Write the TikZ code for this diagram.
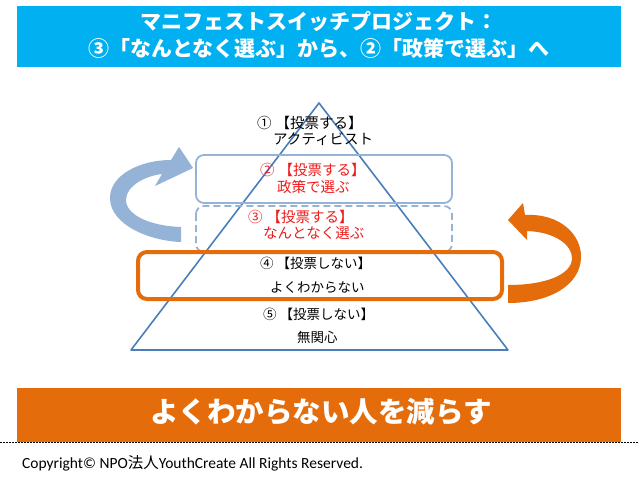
\documentclass[tikz,border=0pt]{standalone}
\usepackage{fontspec}
\setmainfont{Noto Sans CJK JP}
\newfontfamily\calfont{Carlito}
\definecolor{banblue}{HTML}{00B0F0}
\definecolor{banorange}{HTML}{E46C0A}
\definecolor{pyrblue}{HTML}{4A7EBB}
\definecolor{lightblue}{HTML}{95B3D7}
\definecolor{txtred}{HTML}{EE1C1C}
\begin{document}
\begin{tikzpicture}[x=1pt,y=-1pt,
  lvl/.style={font=\fontsize{14.5}{17}\selectfont, inner sep=0pt, anchor=west},
  lvlsmall/.style={font=\fontsize{13.5}{16}\selectfont, inner sep=0pt, anchor=west},
  bantext/.style={text=white, font=\bfseries\fontsize{21}{27}\selectfont, align=center},
  layerbox/.style={lightblue, line width=1.8pt, rounded corners=8pt}]
\useasboundingbox (0,0) rectangle (638,479);
\fill[white] (0,0) rectangle (638,479);
% top banner
\fill[banblue] (17,6) rectangle (621,67);
\node[bantext] (title) at (319,35) {マニフェストスイッチプロジェクト：\\③「なんとなく選ぶ」から、②「政策で選ぶ」へ};
% pyramid
\draw[pyrblue, line width=1.6pt, line join=round] (319,103) -- (508,350) -- (131,350) -- cycle;
% layer boxes
\draw[layerbox] (196,155) rectangle (452,203);
\draw[layerbox, dash pattern=on 7pt off 4pt] (196,206) rectangle (452,252);
\draw[banorange, line width=4pt, rounded corners=9pt] (138,252) rectangle (502,299);
% texts
\node[lvl] (l1a) at (257,123) {①\kern4pt【投票する】};
\node[lvl] (l1b) at (273,139) {アクティビスト};
\node[lvl, text=txtred] (l2a) at (260,170) {②\kern4pt【投票する】};
\node[lvl, text=txtred] (l2b) at (277,187) {政策で選ぶ};
\node[lvl, text=txtred] (l3a) at (248,217) {③\kern4pt【投票する】};
\node[lvl, text=txtred] (l3b) at (263,233) {なんとなく選ぶ};
\node[lvlsmall] (l4a) at (260,263) {④\kern3pt【投票しない】};
\node[lvlsmall] (l4b) at (270,288) {よくわからない};
\node[lvlsmall] (l5a) at (263,314) {⑤\kern3pt【投票しない】};
\node[lvlsmall] (l5b) at (297,337) {無関心};
% left curved arrow
\fill[lightblue] (193,168) -- (179,147) -- (171,160)
  .. controls (140,160) and (110,175) .. (110,198)
  .. controls (110,225) and (150,241) .. (181,242)
  -- (181,227)
  .. controls (150,226) and (126,215) .. (126,200)
  .. controls (126,186) and (145,176) .. (162,174)
  -- (155,186) -- cycle;
% right curved arrow
\fill[banorange] (508,220) -- (523,203) -- (525,215)
  .. controls (560,213) and (582,235) .. (581,258)
  .. controls (580,285) and (550,303) .. (508,303)
  -- (508,285)
  .. controls (545,285) and (572,275) .. (572,258)
  .. controls (572,245) and (555,232) .. (527,231)
  -- (527,240) -- cycle;
% bottom banner
\fill[banorange] (17,388) rectangle (621,442);
\node[text=white, font=\bfseries\fontsize{28.5}{31}\selectfont] (slogan) at (321,412) {よくわからない人を減らす};
\draw[black, line width=0.6pt, dash pattern=on 2pt off 1pt] (0,442) -- (638,442);
\node[anchor=west, font=\calfont\fontsize{15.5}{18}\selectfont, inner sep=0pt] (copy) at (22,463) {Copyright© NPO{\rmfamily 法人}YouthCreate All Rights Reserved.};
\end{tikzpicture}
\end{document}
